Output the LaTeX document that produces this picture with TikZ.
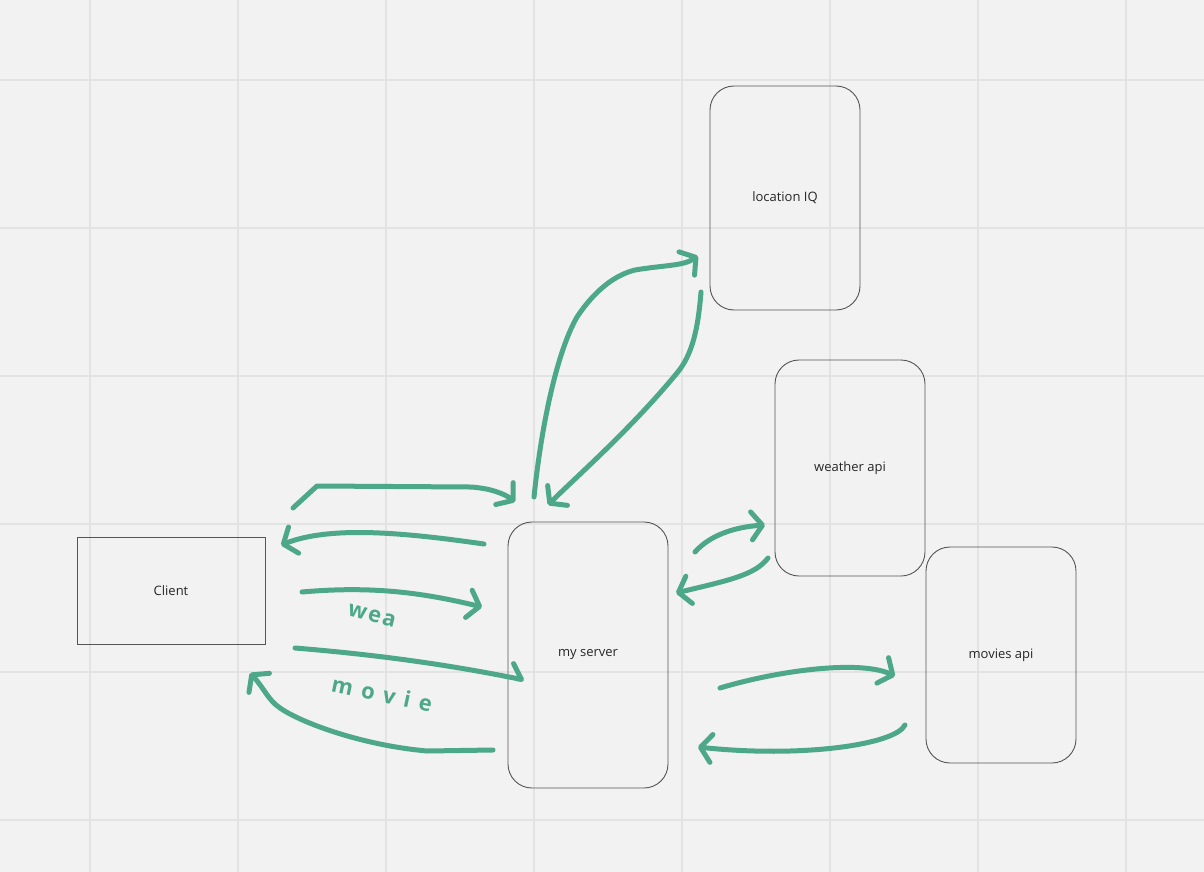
\documentclass[tikz,border=0pt]{standalone}
\usepackage{fontspec}
\setmainfont{Open Sans}
\usetikzlibrary{arrows.meta}

\definecolor{bgcol}{HTML}{F2F2F2}
\definecolor{gridcol}{HTML}{E3E3E3}
\definecolor{penGreen}{HTML}{4DA88A}
\definecolor{boxLine}{HTML}{555555}

\tikzset{
  box/.style={draw=boxLine, line width=0.9pt, rounded corners=24pt, inner sep=0pt,
    text=black!85, font=\fontsize{13}{15}\selectfont},
  stroke/.style={draw=penGreen, line width=5pt, line cap=round, line join=round},
  arr/.style={stroke, -{Straight Barb[length=11pt,width=28pt,round]}},
  hookarr/.style={stroke, -{Straight Barb[length=11pt,width=28pt,round,harpoon]}},
  scrawl/.style={text=penGreen, font=\fontsize{22}{22}\selectfont\bfseries}
}

\begin{document}
\begin{tikzpicture}[x=1pt,y=-1pt]
  % BACKGROUND + GRID
  \fill[bgcol] (0,0) rectangle (1204,872);
  \useasboundingbox (0,0) rectangle (1204,872);
  \foreach \gx in {90,238,...,1126} \draw[gridcol, line width=2pt] (\gx,0) -- (\gx,872);
  \foreach \gy in {80,228,...,820} \draw[gridcol, line width=2pt] (0,\gy) -- (1204,\gy);

  % BOXES
  \node[box, rounded corners=0pt, minimum width=188pt, minimum height=107pt] (client) at (171,591) {Client};
  \node[box, minimum width=160pt, minimum height=266pt] (server) at (588,655) {my server};
  \node[box, minimum width=150pt, minimum height=224pt] (locIQ) at (785,198) {location IQ};
  \node[box, minimum width=150pt, minimum height=216pt] (weather) at (850,468) {weather api};
  \node[box, minimum width=150pt, minimum height=216pt] (movies) at (1001,655) {movies api};

  % ARROW ENDS
  \coordinate (c1s) at (293,508); \coordinate (c1e) at (515,502); % client -> server
  \coordinate (c2s) at (484,544); \coordinate (c2e) at (281,545); % server -> client
  \coordinate (c3s) at (302,592); \coordinate (c3e) at (482,607); % wea
  \coordinate (c4s) at (295,648); \coordinate (c4e) at (524,680); % movie
  \coordinate (c5s) at (493,750); \coordinate (c5e) at (250,673); % back to client
  \coordinate (l1s) at (534,497); \coordinate (l1e) at (698,256); % server -> location IQ
  \coordinate (l2s) at (701,292); \coordinate (l2e) at (548,505); % location IQ -> server
  \coordinate (w1s) at (695,552); \coordinate (w1e) at (765,525); % server -> weather
  \coordinate (w2s) at (768,558); \coordinate (w2e) at (676,593); % weather -> server
  \coordinate (m1s) at (720,688); \coordinate (m1e) at (895,676); % server -> movies
  \coordinate (m2s) at (905,725); \coordinate (m2e) at (698,747); % movies -> server

  % DRAW ARROWS
  \draw[arr] (c1s) -- (317,486) -- (470,487) .. controls (490,488) and (505,494) .. (c1e);
  \draw[arr] (c2s) .. controls (400,532) and (330,526) .. (c2e);
  \draw[arr] (c3s) .. controls (370,586) and (420,592) .. (c3e);
  \draw[hookarr] (c4s) .. controls (380,655) and (450,665) .. (c4e);
  \draw[arr] (c5s) -- (427,751) .. controls (360,745) and (300,722) .. (280,708)
    .. controls (268,700) and (264,688) .. (c5e);
  \draw[arr] (l1s) .. controls (542,420) and (558,350) .. (577,317)
    .. controls (595,290) and (615,275) .. (635,270) .. controls (665,265) and (683,266) .. (l1e);
  \draw[arr] (l2s) .. controls (698,330) and (692,355) .. (677,373)
    .. controls (630,430) and (575,478) .. (l2e);
  \draw[arr] (w1s) .. controls (710,535) and (735,527) .. (w1e);
  \draw[arr] (w2s) .. controls (755,575) and (730,580) .. (w2e);
  \draw[arr] (m1s) .. controls (780,670) and (860,660) .. (m1e);
  \draw[arr] (m2s) .. controls (895,745) and (800,758) .. (m2e);

  % SCRIBBLES
  \node[scrawl, rotate=-14] (weaTxt) at (372,616) {\addfontfeatures{LetterSpace=8}wea};
  \node[scrawl, rotate=-12] (movieTxt) at (382,694) {\addfontfeatures{LetterSpace=40}movie};
\end{tikzpicture}
\end{document}
